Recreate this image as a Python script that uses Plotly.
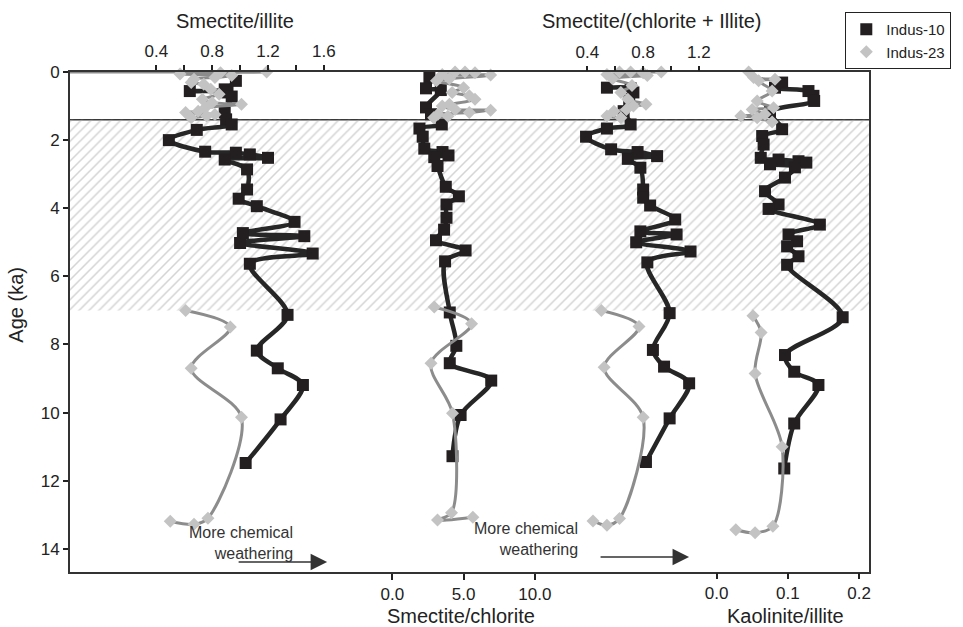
import plotly.graph_objects as go

# ---------------- Smectite/illite ----------------
si10_age = [0.26, 0.51, 0.56, 0.60, 0.72, 1.19, 1.39, 1.54, 1.70, 2.00, 2.34, 2.37, 2.42, 2.52,
            2.57, 2.86, 3.45, 3.72, 3.94, 4.40, 4.73, 4.82, 5.02, 5.33, 5.63, 7.13, 8.18, 8.70,
            9.19, 10.20, 11.48]
si10_val = [0.97, 0.89, 0.64, 0.91, 0.94, 0.89, 0.90, 0.94, 0.69, 0.49, 0.75, 0.97, 1.07, 1.20,
            0.89, 1.05, 1.05, 0.99, 1.12, 1.39, 1.02, 1.46, 1.00, 1.52, 1.07, 1.34, 1.12, 1.27,
            1.45, 1.29, 1.04]
si23_age = [0.0, 0.0, 0.02, 0.06, 0.10, 0.16, 0.21, 0.31, 0.36, 0.51, 0.65, 0.80, 0.90, 0.95,
            1.05, 1.15, 1.19, 1.25, 1.29, 1.34, None, 7.00, 7.49, 8.70, 10.14, 13.10, 13.28, 13.19]
si23_val = [-0.25, 1.19, 0.86, 0.57, 0.94, 0.82, 0.67, 0.65, 0.74, 0.79, 0.85, 0.73, 0.80, 1.01,
            0.75, 0.70, 0.61, 0.82, 0.76, 0.65, None, 0.61, 0.93, 0.65, 1.01, 0.77, 0.67, 0.50]

# ---------------- Smectite/chlorite ----------------
sc10_age = [0.16, 0.48, 0.53, 1.04, 1.24, 1.54, 1.66, 1.90, 2.25, 2.35, 2.45, 2.50, 2.76, 3.37,
            3.65, 3.89, 4.28, 4.63, 4.94, 5.24, 5.56, 7.06, 8.04, 8.55, 9.06, 10.07, 11.28]
sc10_val = [2.6, 2.36, 3.4, 2.36, 2.71, 3.47, 1.90, 2.13, 2.24, 3.52, 3.94, 2.94, 3.17, 3.75,
            4.67, 3.80, 3.80, 3.63, 3.06, 5.14, 3.70, 4.03, 4.49, 4.03, 6.94, 4.79, 4.22]
sc23_age = [0.0, 0.0, 0.02, 0.07, 0.09, 0.20, 0.26, 0.46, 0.60, 0.70, 0.80, 0.95, 1.00, 1.10,
            1.12, 1.19, 1.24, 1.30, 1.34, None, 6.90, 7.39, 8.55, 10.02, 12.94, 13.15, 13.07]
sc23_val = [4.4, 5.1, 5.8, 3.5, 6.9, 4.0, 3.1, 5.0, 4.2, 5.4, 5.8, 4.0, 3.5, 4.4,
            6.9, 5.4, 3.2, 3.9, 2.9, None, 2.94, 5.56, 2.71, 4.22, 4.15, 3.17, 5.65]

# ---------------- Smectite/(chlorite + illite) ----------------
sci10_age = [0.46, 0.48, 0.60, 0.85, 1.15, 1.54, 1.66, 1.90, 2.27, 2.35, 2.47, 2.55, 2.81, 3.45,
             3.69, 3.92, 4.33, 4.68, 4.77, 5.00, 5.27, 5.59, 7.08, 8.16, 8.65, 9.14, 10.17, 11.45]
sci10_val = [0.54, 0.71, 0.73, 0.70, 0.66, 0.71, 0.54, 0.39, 0.57, 0.76, 0.90, 0.69, 0.78, 0.80,
             0.80, 0.85, 1.03, 0.78, 1.04, 0.75, 1.14, 0.83, 0.99, 0.87, 0.95, 1.13, 0.99, 0.82]
sci23_age = [0.0, 0.0, 0.0, 0.02, 0.07, 0.10, 0.20, 0.40, 0.60, 0.80, 0.95, 1.00, 1.10, 1.15,
             1.29, 1.34, None, 7.00, 7.47, 8.67, 10.14, 13.11, 13.31, 13.18]
sci23_val = [0.93, 0.71, 0.63, 0.80, 0.54, 0.83, 0.58, 0.72, 0.64, 0.69, 0.82, 0.73, 0.68, 0.59,
             0.54, 0.64, None, 0.50, 0.77, 0.52, 0.80, 0.63, 0.54, 0.44]

# ---------------- Kaolinite/illite ----------------
ki10_age = [0.31, 0.46, 0.56, 0.70, 0.85, 1.18, 1.68, 1.88, 2.13, 2.52, 2.57, 2.62, 2.66, 2.71,
            2.80, 3.10, 3.50, 3.89, 4.02, 4.48, 4.77, 4.97, 5.12, 5.41, 5.66, 7.20, 8.31, 8.80,
            9.19, 10.32, 11.64]
ki10_val = [0.092, 0.082, 0.129, 0.136, 0.137, 0.075, 0.092, 0.064, 0.066, 0.062, 0.087, 0.115,
            0.126, 0.075, 0.110, 0.096, 0.068, 0.087, 0.073, 0.145, 0.101, 0.113, 0.099, 0.115,
            0.099, 0.177, 0.096, 0.109, 0.143, 0.109, 0.095]
ki23_age = [0.0, 0.16, 0.21, 0.26, 0.56, 0.85, 1.05, 1.10, 1.24, 1.29, 1.34, 1.47, None,
            7.16, 7.65, 8.85, 11.00, 13.34, 13.53, 13.44]
ki23_val = [0.045, 0.052, 0.082, 0.059, 0.078, 0.057, 0.080, 0.050, 0.068, 0.034, 0.057, 0.078,
            None, 0.051, 0.0625, 0.054, 0.092, 0.079, 0.054, 0.027]

# Hatched interval (ka)
band_age = [1.4, 7.0]

# Tick definitions
age_ticks = [0, 2, 4, 6, 8, 10, 12, 14]
si_ticks = [0.4, 0.6, 0.8, 1.0, 1.2, 1.4, 1.6]
si_labels = ["0.4", "", "0.8", "", "1.2", "", "1.6"]
sci_ticks = [0.4, 0.6, 0.8, 1.0, 1.2]
sci_labels = ["0.4", "", "0.8", "", "1.2"]
sc_ticks = [0, 5, 10]
sc_labels = ["0.0", "5.0", "10.0"]
ki_ticks = [0, 0.1, 0.2]
ki_labels = ["0.0", "0.1", "0.2"]

FONT = "Liberation Sans, Arial, Helvetica, sans-serif"
INK = "#222222"
FRAME = "#333333"

# axis id -> displayed range
ranges = {
    "x2": [-0.218, 5.504],    # Smectite/illite (top)
    "x3": [-3.314, 2.421],    # Smectite/(chlorite + illite) (top)
    "x4": [-22.64, 33.47],    # Smectite/chlorite (bottom)
    "x5": [-0.908, 0.214],    # Kaolinite/illite (bottom)
}

fig = go.Figure()

# hatched band on the base axis so it sits beneath every curve
fig.add_trace(go.Scatter(
    x=[0, 1, 1, 0, 0],
    y=[band_age[0], band_age[0], band_age[1], band_age[1], band_age[0]],
    xaxis="x", yaxis="y", mode="lines", fill="toself",
    line=dict(width=0), fillcolor="rgba(0,0,0,0)",
    fillpattern=dict(shape="/", fgcolor="#a9a9a9", bgcolor="rgba(0,0,0,0)",
                     size=7, solidity=0.22),
    hoverinfo="skip", showlegend=False))


def add_series(axis, ages, vals, style, name, show_legend):
    lo, hi = ranges[axis]
    fig.add_trace(go.Scatter(
        x=vals, y=ages, xaxis=axis, yaxis="y", mode="lines",
        line=dict(color=style["line"], width=style["lw"], shape="spline", smoothing=0.9),
        connectgaps=False, hoverinfo="skip", showlegend=False))
    pts = [(a, v) for a, v in zip(ages, vals) if v is not None and lo <= v <= hi]
    fig.add_trace(go.Scatter(
        x=[v for a, v in pts], y=[a for a, v in pts], xaxis=axis, yaxis="y",
        mode="markers", name=name, legendgroup=name, showlegend=show_legend,
        cliponaxis=False,
        marker=dict(symbol=style["symbol"], color=style["marker"], size=style["size"],
                    line=dict(width=0))))


s10 = dict(line="#262626", lw=4.5, symbol="square", marker="#231f20", size=12)
s23 = dict(line="#8c8c8c", lw=3, symbol="diamond", marker="#c3c3c3", size=10)

panels = [
    ("x2", si10_age, si10_val, si23_age, si23_val),
    ("x4", sc10_age, sc10_val, sc23_age, sc23_val),
    ("x3", sci10_age, sci10_val, sci23_age, sci23_val),
    ("x5", ki10_age, ki10_val, ki23_age, ki23_val),
]
for i, (ax, a10, v10, a23, v23) in enumerate(panels):
    add_series(ax, a10, v10, s10, "Indus-10", i == 0)
    add_series(ax, a23, v23, s23, "Indus-23", i == 0)

tickfont = dict(family=FONT, size=17, color=INK)
common = dict(ticks="outside", ticklen=5, tickwidth=1.5, tickcolor=INK,
              showgrid=False, zeroline=False, tickfont=tickfont, tickmode="array")
top = dict(common, ticklabelstandoff=1)
bottom = dict(common, ticklen=6, ticklabelstandoff=0)

fig.update_layout(
    width=963, height=627,
    margin=dict(l=70, r=85, t=72, b=55, pad=0),
    paper_bgcolor="white", plot_bgcolor="white",
    font=dict(family=FONT, color=INK),
    xaxis=dict(range=[0, 1], visible=False, fixedrange=True),
    xaxis2=dict(overlaying="x", side="top", range=ranges["x2"], tickvals=si_ticks,
                ticktext=si_labels, showline=True, linecolor=FRAME, linewidth=2, **top),
    xaxis3=dict(overlaying="x", side="top", range=ranges["x3"], tickvals=sci_ticks,
                ticktext=sci_labels, showline=False, **top),
    xaxis4=dict(overlaying="x", side="bottom", range=ranges["x4"], tickvals=sc_ticks,
                ticktext=sc_labels, showline=True, linecolor=FRAME, linewidth=2, **bottom),
    xaxis5=dict(overlaying="x", side="bottom", range=ranges["x5"], tickvals=ki_ticks,
                ticktext=ki_labels, showline=False, **bottom),
    yaxis=dict(range=[14.68, 0], tickvals=age_ticks, ticks="outside", ticklen=5,
               tickwidth=1.5, tickcolor=INK, showgrid=False, zeroline=False,
               showline=True, mirror=True, linecolor=FRAME, linewidth=2,
               tickfont=tickfont),
    legend=dict(x=1.103, xanchor="right", y=1.12, yanchor="top",
                bgcolor="white", bordercolor=INK, borderwidth=1,
                font=dict(family=FONT, size=15, color=INK),
                tracegroupgap=0, itemwidth=30),
    showlegend=True,
)

# interval boundary at 1.4 ka
fig.add_shape(type="line", xref="paper", x0=0, x1=1, yref="y", y0=band_age[0], y1=band_age[0],
              line=dict(color="#3a3a3a", width=1.5), layer="below")

title_font = dict(family=FONT, size=20, color=INK)
for txt, x, y in [("Smectite/illite", 0.2067, 1.102),
                  ("Smectite/(chlorite + Illite)", 0.729, 1.102),
                  ("Smectite/chlorite", 0.4895, -0.087),
                  ("Kaolinite/illite", 0.8954, -0.087)]:
    fig.add_annotation(text=txt, x=x, y=y, xref="paper", yref="paper", showarrow=False,
                       xanchor="center", yanchor="middle", font=title_font)
fig.add_annotation(text="Age (ka)", x=-0.068, y=0.534, xref="paper", yref="paper",
                   showarrow=False, textangle=-90, xanchor="center", yanchor="middle",
                   font=title_font)

note_font = dict(family=FONT, size=16, color="#333333")
for x, y in [(0.281, 0.058), (0.6386, 0.066)]:
    fig.add_annotation(text="More chemical<br>weathering", x=x, y=y, xref="paper",
                       yref="paper", showarrow=False, xanchor="right", yanchor="middle",
                       align="right", font=note_font)
for x, y in [(0.3218, 0.02), (0.7748, 0.03)]:
    fig.add_annotation(text="", x=x, y=y, xref="paper", yref="paper", showarrow=True,
                       ax=-90, ay=0, axref="pixel", ayref="pixel", arrowhead=2,
                       arrowsize=2.2, arrowwidth=1.5, arrowcolor="#333333")

fig.write_html("out.html")
